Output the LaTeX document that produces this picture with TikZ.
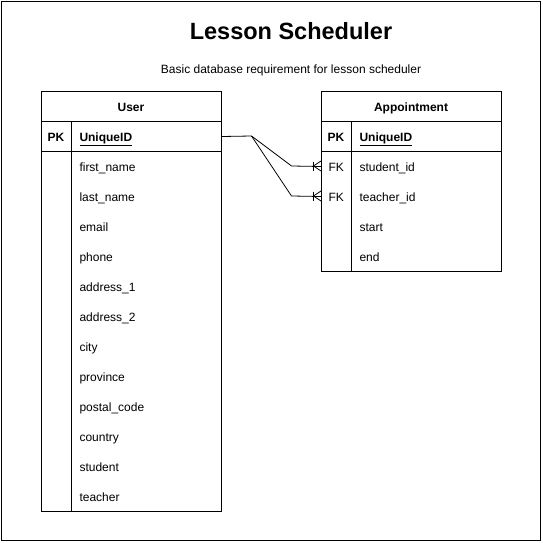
\documentclass[tikz,border=0pt]{standalone}
\usepackage{fontspec}
\setmainfont{Liberation Sans}
\begin{document}
\begin{tikzpicture}[x=1pt,y=-1pt,line width=1pt,
  txt/.style={font=\fontsize{12}{14}\selectfont, inner sep=0pt, anchor=base west},
  pk/.style={font=\fontsize{12}{14}\selectfont\bfseries, inner sep=0pt, anchor=base},
  hdr/.style={font=\fontsize{12}{14}\selectfont\bfseries, inner sep=0pt, anchor=base},
  tbl/.style={draw, anchor=north west, inner sep=0pt, minimum width=180pt},
  rowbox/.style={anchor=north west, inner sep=0pt, minimum width=180pt, minimum height=30pt},
  rel/.style={line width=0.8pt}]
\useasboundingbox (0,0) rectangle (543,543);
\draw[line width=0.8pt] (1.5,1.5) rectangle (540.5,540.5);
\node[font=\fontsize{23.5}{26}\selectfont\bfseries, inner sep=0pt, anchor=base] (title) at (291,40) {Lesson Scheduler};
\node[font=\fontsize{12}{14}\selectfont, inner sep=0pt, anchor=base] (sub) at (291,74) {Basic database requirement for lesson scheduler};
% User table
\node[tbl, minimum height=420pt] (user) at (41,91) {};
\draw (41,121) -- (221,121) (41,151) -- (221,151) (71,121) -- (71,511);
\node[hdr] (uh) at (131,111.3) {User};
\node[rowbox] (upkrow) at (41,121) {};
\node[pk] (upk) at (56,141.3) {PK};
\node[txt, font=\fontsize{12}{14}\selectfont\bfseries] (uid) at (79,141.3) {\underline{UniqueID}};
\foreach \t [count=\i] in {first\_name,last\_name,email,phone,address\_1,address\_2,city,province,postal\_code,country,student,teacher}
  \node[txt] (u\i) at (79,{141.3+30*\i}) {\t};
% Appointment table
\node[tbl, minimum height=180pt] (appt) at (321,91) {};
\draw (321,121) -- (501,121) (321,151) -- (501,151) (351,121) -- (351,271);
\node[hdr] (ah) at (411,111.3) {Appointment};
\node[pk] (apk) at (336,141.3) {PK};
\node[txt, font=\fontsize{12}{14}\selectfont\bfseries] (aid) at (359,141.3) {\underline{UniqueID}};
\node[rowbox] (arow1) at (321,151) {};
\node[rowbox] (arow2) at (321,181) {};
\node[txt] (fk1) at (328,171.3) {FK};
\node[txt] (fk2) at (328,201.3) {FK};
\node[txt] (a1) at (359,171.3) {student\_id};
\node[txt] (a2) at (359,201.3) {teacher\_id};
\node[txt] (a3) at (359,231.3) {start};
\node[txt] (a4) at (359,261.3) {end};
% relations
\coordinate (j) at (251.5,136);
\coordinate (k1) at (291.5,166);
\coordinate (k2) at (291.5,196);
\draw[rel] (upkrow.east) -- (j) -- (k1) -- (arow1.west);
\draw[rel] (j) -- (k2) -- (arow2.west);
\foreach \y in {166,196}{
  \draw[rel] (313.5,\y-4.5) -- (313.5,\y+4.5);
  \draw[rel] (321,\y-5) -- (313.5,\y) -- (321,\y+5);
}
\end{tikzpicture}
\end{document}
